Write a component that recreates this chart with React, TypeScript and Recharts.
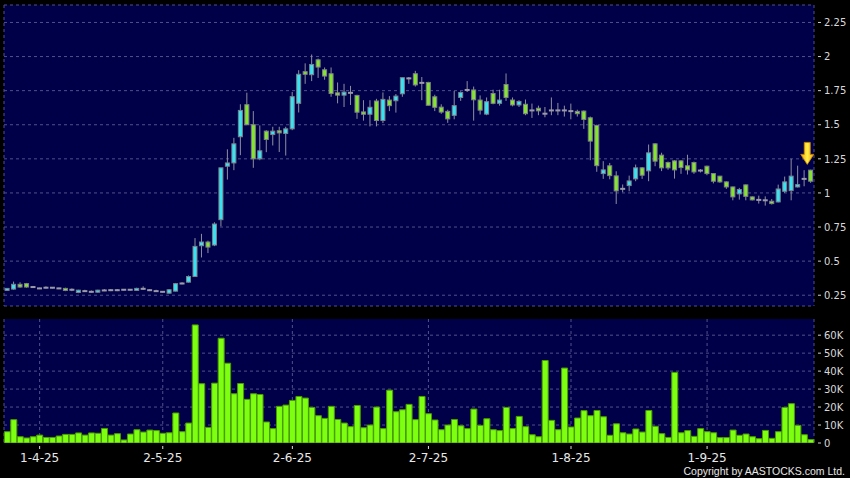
import React from "react";
import { ComposedChart, BarChart, Bar, XAxis, YAxis, CartesianGrid, ReferenceDot } from "recharts";

const dates = [
  "25-3-25", "26-3-25", "27-3-25", "28-3-25", "31-3-25",
  "1-4-25", "2-4-25", "3-4-25", "7-4-25", "8-4-25", "9-4-25", "10-4-25", "11-4-25", "14-4-25", "15-4-25",
  "16-4-25", "17-4-25", "22-4-25", "23-4-25", "24-4-25", "25-4-25", "28-4-25", "29-4-25", "30-4-25",
  "2-5-25", "6-5-25", "7-5-25", "8-5-25", "9-5-25", "12-5-25", "13-5-25", "14-5-25", "15-5-25", "16-5-25",
  "19-5-25", "20-5-25", "21-5-25", "22-5-25", "23-5-25", "26-5-25", "27-5-25", "28-5-25", "29-5-25", "30-5-25",
  "2-6-25", "3-6-25", "4-6-25", "5-6-25", "6-6-25", "9-6-25", "10-6-25", "11-6-25", "12-6-25", "13-6-25",
  "16-6-25", "17-6-25", "18-6-25", "19-6-25", "20-6-25", "23-6-25", "24-6-25", "25-6-25", "26-6-25", "27-6-25", "30-6-25",
  "2-7-25", "3-7-25", "4-7-25", "7-7-25", "8-7-25", "9-7-25", "10-7-25", "11-7-25", "14-7-25", "15-7-25",
  "16-7-25", "17-7-25", "18-7-25", "21-7-25", "22-7-25", "23-7-25", "24-7-25", "25-7-25", "28-7-25", "29-7-25",
  "30-7-25", "31-7-25",
  "1-8-25", "4-8-25", "5-8-25", "6-8-25", "7-8-25", "8-8-25", "11-8-25", "12-8-25", "13-8-25", "14-8-25",
  "15-8-25", "18-8-25", "19-8-25", "20-8-25", "21-8-25", "22-8-25", "25-8-25", "26-8-25", "27-8-25", "28-8-25", "29-8-25",
  "1-9-25", "2-9-25", "3-9-25", "4-9-25", "5-9-25", "8-9-25", "9-9-25", "10-9-25", "11-9-25", "12-9-25",
  "15-9-25", "16-9-25", "17-9-25", "18-9-25", "19-9-25", "22-9-25", "23-9-25",
];

const opens = [
  0.29, 0.295, 0.33, 0.335, 0.31, 0.3, 0.305, 0.305, 0.3, 0.3,
  0.29, 0.27, 0.28, 0.275, 0.275, 0.285, 0.287, 0.287, 0.29, 0.29,
  0.29, 0.297, 0.287, 0.28, 0.275, 0.265, 0.28, 0.336, 0.346, 0.387,
  0.613, 0.64, 0.618, 0.804, 1.196, 1.22, 1.412, 1.647, 1.5, 1.25,
  1.453, 1.428, 1.456, 1.436, 1.47, 1.657, 1.889, 1.867, 1.976, 1.903,
  1.874, 1.734, 1.717, 1.734, 1.715, 1.594, 1.577, 1.674, 1.531, 1.681,
  1.676, 1.727, 1.84, 1.874, 1.807, 1.81, 1.705, 1.629, 1.598, 1.569,
  1.7, 1.755, 1.755, 1.681, 1.578, 1.729, 1.657, 1.795, 1.681, 1.645,
  1.65, 1.605, 1.621, 1.581, 1.605, 1.605, 1.605, 1.6, 1.598, 1.6,
  1.551, 1.495, 1.142, 1.199, 1.125, 1.03, 1.054, 1.103, 1.184, 1.162,
  1.36, 1.277, 1.223, 1.235, 1.235, 1.199, 1.223, 1.164, 1.196, 1.142,
  1.123, 1.081, 1.044, 0.993, 1.059, 0.971, 0.949, 0.946, 0.939, 0.934,
  1.012, 1.017, 1.044, 1.103, 1.167,
];

const highs = [
  0.302, 0.35, 0.345, 0.34, 0.318, 0.305, 0.315, 0.31, 0.305, 0.305,
  0.3, 0.29, 0.29, 0.285, 0.29, 0.295, 0.295, 0.295, 0.295, 0.295,
  0.305, 0.315, 0.295, 0.29, 0.28, 0.295, 0.34, 0.345, 0.395, 0.669,
  0.7, 0.65, 0.785, 1.184, 1.32, 1.404, 1.65, 1.735, 1.6, 1.495,
  1.46, 1.485, 1.485, 1.485, 1.74, 1.9, 1.95, 2.015, 1.985, 1.92,
  1.92, 1.81, 1.8, 1.785, 1.72, 1.68, 1.68, 1.69, 1.737, 1.71,
  1.725, 1.845, 1.85, 1.895, 1.85, 1.815, 1.72, 1.65, 1.61, 1.748,
  1.745, 1.82, 1.78, 1.715, 1.7, 1.757, 1.757, 1.876, 1.7, 1.68,
  1.685, 1.655, 1.64, 1.63, 1.7, 1.66, 1.64, 1.655, 1.61, 1.605,
  1.56, 1.5, 1.233, 1.22, 1.159, 1.062, 1.127, 1.208, 1.19, 1.355,
  1.365, 1.295, 1.23, 1.24, 1.24, 1.28, 1.23, 1.175, 1.2, 1.145,
  1.125, 1.085, 1.046, 1.037, 1.062, 0.975, 0.98, 0.975, 0.955, 1.061,
  1.12, 1.25, 1.2, 1.167, 1.17,
];

const lows = [
  0.285, 0.29, 0.305, 0.305, 0.305, 0.295, 0.3, 0.3, 0.295, 0.28,
  0.28, 0.265, 0.275, 0.27, 0.27, 0.28, 0.28, 0.28, 0.285, 0.285,
  0.285, 0.29, 0.28, 0.275, 0.27, 0.262, 0.278, 0.33, 0.343, 0.385,
  0.527, 0.559, 0.61, 0.755, 1.098, 1.167, 1.277, 1.5, 1.184, 1.24,
  1.299, 1.348, 1.3, 1.274, 1.46, 1.59, 1.8, 1.82, 1.843, 1.83,
  1.705, 1.657, 1.63, 1.645, 1.543, 1.53, 1.488, 1.488, 1.512, 1.6,
  1.589, 1.705, 1.8, 1.78, 1.68, 1.64, 1.6, 1.58, 1.514, 1.54,
  1.675, 1.74, 1.53, 1.575, 1.57, 1.65, 1.64, 1.675, 1.635, 1.63,
  1.57, 1.55, 1.57, 1.555, 1.57, 1.57, 1.56, 1.54, 1.56, 1.47,
  1.24, 1.155, 1.103, 1.1, 0.919, 1.005, 1.012, 1.086, 1.103, 1.086,
  1.196, 1.16, 1.17, 1.105, 1.14, 1.135, 1.14, 1.15, 1.13, 1.07,
  1.075, 1.03, 0.946, 0.951, 0.946, 0.945, 0.922, 0.907, 0.915, 0.931,
  1.0, 0.946, 1.04, 1.049, 1.074,
];

const closes = [
  0.3, 0.33, 0.31, 0.31, 0.31, 0.3, 0.305, 0.305, 0.3, 0.285,
  0.29, 0.287, 0.28, 0.275, 0.287, 0.285, 0.287, 0.287, 0.29, 0.29,
  0.3, 0.297, 0.287, 0.28, 0.275, 0.29, 0.335, 0.336, 0.387, 0.608,
  0.64, 0.603, 0.772, 1.184, 1.22, 1.36, 1.605, 1.5, 1.25, 1.309,
  1.392, 1.453, 1.44, 1.47, 1.706, 1.87, 1.87, 1.942, 1.923, 1.857,
  1.729, 1.717, 1.739, 1.734, 1.592, 1.577, 1.628, 1.531, 1.686, 1.64,
  1.71, 1.845, 1.84, 1.792, 1.807, 1.643, 1.628, 1.593, 1.543, 1.64,
  1.736, 1.755, 1.683, 1.607, 1.669, 1.657, 1.681, 1.7, 1.645, 1.671,
  1.581, 1.605, 1.602, 1.581, 1.605, 1.605, 1.605, 1.6, 1.581, 1.539,
  1.38, 1.2, 1.169, 1.127, 1.015, 1.03, 1.088, 1.184, 1.13, 1.294,
  1.233, 1.184, 1.184, 1.169, 1.186, 1.169, 1.154, 1.164, 1.142, 1.086,
  1.081, 1.044, 0.971, 1.025, 0.975, 0.949, 0.949, 0.946, 0.922, 1.029,
  1.081, 1.123, 1.061, 1.103, 1.086,
];

const volumes = [
  6300, 13000, 3500, 2800, 3500, 4400, 3100, 3100, 3900, 4800,
  4800, 5600, 4400, 5600, 5400, 8100, 4400, 5200, 1700, 5000,
  7400, 6100, 7200, 6900, 5400, 5700, 16700, 6300, 11100, 65700,
  33000, 8700, 33300, 58300, 44400, 27400, 33100, 24300, 27400, 27000,
  11700, 8000, 20400, 21100, 23700, 25900, 25000, 19800, 15200, 13700,
  20400, 13100, 11100, 9100, 20900, 8500, 10000, 20000, 8000, 29400,
  17400, 18500, 21500, 13000, 25900, 16300, 12800, 7400, 10000, 13100,
  9600, 8000, 18900, 9800, 13500, 7400, 6900, 19800, 8000, 14800,
  9100, 4600, 3500, 45900, 12600, 7400, 41700, 8900, 13900, 18000,
  15200, 18100, 14600, 4300, 10700, 5700, 5000, 7800, 6100, 18100,
  9300, 5200, 3100, 39300, 5700, 6900, 3700, 8000, 6300, 5700,
  3000, 3000, 7200, 4300, 5000, 3500, 2400, 7000, 2600, 6300,
  19800, 21900, 9800, 4600, 1900,
];

const tickDates = ["1-4-25", "2-5-25", "2-6-25", "2-7-25", "1-8-25", "1-9-25"];
const priceTicks = [0.25, 0.5, 0.75, 1, 1.25, 1.5, 1.75, 2, 2.25];
const volumeTicks = [0, 10000, 20000, 30000, 40000, 50000, 60000];

const rows = dates.map((d, i) => ({
  date: d,
  range: [lows[i], highs[i]],
  open: opens[i],
  high: highs[i],
  low: lows[i],
  close: closes[i],
  volume: volumes[i],
}));

const NAVY = "#000048";
const GRID = "#50508c";
const UP = "#36e3f2";
const DOWN = "#84e62c";
const EDGE = "#80808c";
const WICK = "#8e8ea0";

function Candle(props: any) {
  const { x, y, width, height, payload } = props;
  if (!payload) return null;
  const top = Math.min(y, y + height);
  const h = Math.abs(height);
  const { open, close, high, low } = payload;
  const span = high - low || 1;
  const toY = (v: number) => top + ((high - v) / span) * h;
  const cx = x + width / 2;
  const yO = toY(open);
  const yC = toY(close);
  const bTop = Math.min(yO, yC);
  const bH = Math.abs(yO - yC);
  return (
    <g>
      <line x1={cx} x2={cx} y1={top} y2={top + h} stroke={WICK} strokeWidth={1} />
      {open === close ? (
        <rect x={x} y={yO - 1} width={width} height={2} fill="#9a9aa8" />
      ) : (
        <rect
          x={x + 0.5}
          y={bTop}
          width={width - 1}
          height={Math.max(bH, 2)}
          fill={close > open ? UP : DOWN}
          stroke={EDGE}
          strokeWidth={1}
        />
      )}
    </g>
  );
}

function Arrow(props: any) {
  const { cx, cy } = props;
  const x = cx - 3.5;
  const pts = [
    [x - 3, cy - 11],
    [x + 3, cy - 11],
    [x + 3, cy + 1],
    [x + 6.5, cy + 1],
    [x, cy + 11],
    [x - 6.5, cy + 1],
    [x - 3, cy + 1],
  ]
    .map((p) => p.join(","))
    .join(" ");
  return (
    <g>
      <defs>
        <linearGradient id="arrowFill" x1="0" y1="0" x2="1" y2="0">
          <stop offset="0" stopColor="#f0a000" />
          <stop offset="0.5" stopColor="#fff04a" />
          <stop offset="1" stopColor="#f0a000" />
        </linearGradient>
      </defs>
      <polygon points={pts} fill="url(#arrowFill)" stroke="#d08a00" strokeWidth={0.8} />
    </g>
  );
}

function RightTick(props: any) {
  const { x, y, payload, fmt } = props;
  return (
    <g>
      <line x1={x + 4} x2={x + 7} y1={y} y2={y} stroke="#cfcfcf" />
      <text x={x + 10} y={y + 3.7} fill="#d8d8d8" fontSize={10} fontFamily="DejaVu Sans" textAnchor="start">
        {fmt(payload.value)}
      </text>
    </g>
  );
}

function DateTick(props: any) {
  const { x, y, payload } = props;
  return (
    <g>
      <line x1={x} x2={x} y1={y + 3} y2={y + 6} stroke="#dddddd" />
      <text x={x} y={y + 19} fill="#e8e8e8" fontSize={12} fontFamily="DejaVu Sans" textAnchor="middle">
        {payload.value}
      </text>
    </g>
  );
}

const priceFmt = (v: number) => String(v);
const volFmt = (v: number) => (v === 0 ? "0" : `${v / 1000}K`);

export default function App() {
  return (
    <div
      style={{
        position: "absolute",
        left: 0,
        top: 0,
        width: 850,
        height: 478,
        background: "#000",
        overflow: "hidden",
      }}
    >
      <div style={{ position: "absolute", left: 0, top: 0 }}>
        <ComposedChart
          width={850}
          height={310}
          data={rows}
          margin={{ top: 5, right: 0, bottom: 4, left: 4 }}
          barCategoryGap="9%"
        >
          <CartesianGrid fill={NAVY} stroke={GRID} strokeDasharray="3 3" />
          <XAxis
            dataKey="date"
            ticks={tickDates}
            interval={0}
            height={0}
            tick={false}
            axisLine={false}
            tickLine={false}
          />
          <YAxis
            orientation="right"
            width={36}
            domain={[0.171, 2.378]}
            ticks={priceTicks}
            interval={0}
            allowDataOverflow
            axisLine={false}
            tickLine={false}
            tickSize={0}
            tickMargin={0}
            tick={<RightTick fmt={priceFmt} />}
          />
          <Bar dataKey="range" shape={<Candle />} isAnimationActive={false} />
          <ReferenceDot x={dates[dates.length - 1]} y={1.29} shape={<Arrow />} />
        </ComposedChart>
      </div>
      <div style={{ position: "absolute", left: 0, top: 310 }}>
        <BarChart
          width={850}
          height={168}
          data={rows}
          margin={{ top: 9, right: 0, bottom: 0, left: 4 }}
          barCategoryGap="5%"
        >
          <CartesianGrid
            fill={NAVY}
            stroke={GRID}
            strokeDasharray="3 3"
            horizontalValues={volumeTicks.slice(1)}
          />
          <XAxis
            dataKey="date"
            ticks={tickDates}
            interval={0}
            height={35}
            axisLine={false}
            tickLine={false}
            tickSize={0}
            tickMargin={0}
            tick={<DateTick />}
          />
          <YAxis
            orientation="right"
            width={36}
            domain={[0, 69000]}
            ticks={volumeTicks}
            interval={0}
            allowDataOverflow
            axisLine={false}
            tickLine={false}
            tickSize={0}
            tickMargin={0}
            tick={<RightTick fmt={volFmt} />}
          />
          <Bar dataKey="volume" fill="#7cff10" stroke="#4c9c00" strokeWidth={1} isAnimationActive={false} />
        </BarChart>
      </div>
      <div
        style={{
          position: "absolute",
          right: 5,
          top: 465,
          fontFamily: '"Liberation Sans", Arial, sans-serif',
          fontSize: 10.5,
          lineHeight: "12px",
          color: "#e8e8e8",
          whiteSpace: "nowrap",
        }}
      >
        Copyright by AASTOCKS.com Ltd.
      </div>
    </div>
  );
}
